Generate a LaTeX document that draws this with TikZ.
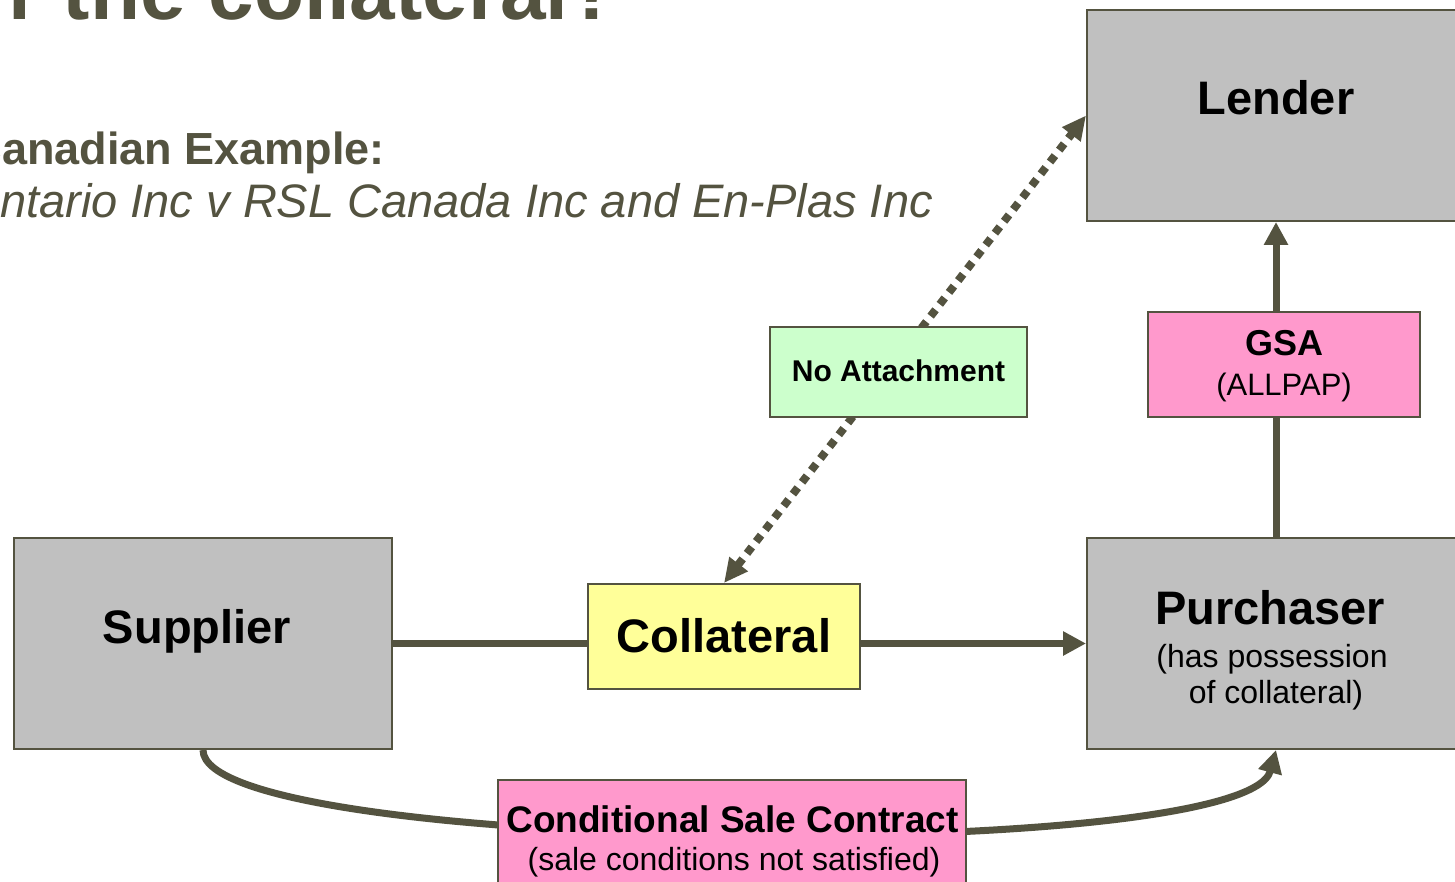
\documentclass[tikz,border=0pt]{standalone}
\usepackage{fontspec}
\setmainfont{Liberation Sans}
\usetikzlibrary{arrows.meta,backgrounds}
\definecolor{olive}{RGB}{84,83,64}
\definecolor{boxgray}{RGB}{192,192,192}
\definecolor{boxyellow}{RGB}{255,255,153}
\definecolor{boxgreen}{RGB}{204,255,204}
\definecolor{boxpink}{RGB}{255,153,204}
\newcommand{\fs}[1]{\fontsize{#1}{#1}\selectfont}
\tikzset{
  box/.style={draw=olive, line width=2pt, inner sep=0pt, anchor=center},
  txt/.style={inner sep=0pt, anchor=base, align=center, text=black},
  conn/.style={draw=olive, line width=7pt},
  tip/.style={-{Triangle[length=23pt,width=23pt]}},
  dotconn/.style={draw=olive, line width=8pt, dash pattern=on 8pt off 7pt,
     {Triangle[length=24pt,width=22pt]}-{Triangle[length=24pt,width=22pt]}},
  head/.style={inner sep=0pt, text=olive}
}
\begin{document}
\begin{tikzpicture}[x=1pt,y=-1pt]
\useasboundingbox (0,0) rectangle (1455,882);
\clip (0,0) rectangle (1455,882);
% heading texts
\node[head, anchor=base east] (title) at (619,20) {\fs{82}\bfseries r the collateral?};
\node[head, anchor=base east] (canex) at (385,165) {\fs{45}\bfseries Canadian Example:};
\node[head, anchor=base east] (case) at (933,218) {\fs{47}\itshape Ontario Inc v RSL Canada Inc and En-Plas Inc};
% boxes
\node[box, fill=boxgray, minimum width=378pt, minimum height=211pt] (lender) at (1276,115.5) {};
\node[box, fill=boxgray, minimum width=378pt, minimum height=211pt] (supplier) at (203,643.5) {};
\node[box, fill=boxgray, minimum width=378pt, minimum height=211pt] (purchaser) at (1276,643.5) {};
\node[box, fill=boxyellow, minimum width=272pt, minimum height=105pt] (coll) at (724,636.5) {};
\node[box, fill=boxgreen, minimum width=257pt, minimum height=90pt] (noatt) at (898.5,372) {};
\node[box, fill=boxpink, minimum width=272pt, minimum height=105pt] (gsa) at (1284,364.5) {};
\node[box, fill=boxpink, minimum width=468pt, minimum height=112pt] (csc) at (732,836) {};
% texts
\node[txt] (lenderT) at (1276,115) {\fs{47}\bfseries Lender};
\node[txt] (supplierT) at (197,643) {\fs{47}\bfseries Supplier};
\node[txt] (collT) at (724,652) {\fs{47}\bfseries Collateral};
\node[txt] (purchT) at (1270,624) {\fs{47}\bfseries Purchaser};
\node[txt] (purchT2) at (1272,667) {\fs{32}(has possession};
\node[txt] (purchT3) at (1276,703) {\fs{32}of collateral)};
\node[txt] (gsaT) at (1284,355) {\fs{36}\bfseries GSA};
\node[txt] (gsaT2) at (1284,395) {\fs{31}(ALLPAP)};
\node[txt] (noattT) at (898.5,381) {\fs{30}\bfseries No Attachment};
\node[txt] (cscT) at (732.5,832) {\fs{37}\bfseries Conditional Sale Contract};
\node[txt] (cscT2) at (734,870) {\fs{32}(sale conditions not satisfied)};
% connectors
\begin{scope}[on background layer]
\fill[white] (0,0) rectangle (1455,882);
\draw[conn] (supplier.east) -- (supplier.east -| coll.west);
\draw[conn, tip] (coll.east |- purchaser.west) -- (purchaser.west);
\draw[conn] (purchaser.north) -- (purchaser.north |- gsa.south);
\draw[conn, tip] (lender.south |- gsa.north) -- (lender.south);
\draw[dotconn] (coll.north) -- (lender.west);
\draw[conn, tip] (supplier.south) .. controls (203,855) and (1245,865) .. (purchaser.south);
\end{scope}
\end{tikzpicture}
\end{document}
